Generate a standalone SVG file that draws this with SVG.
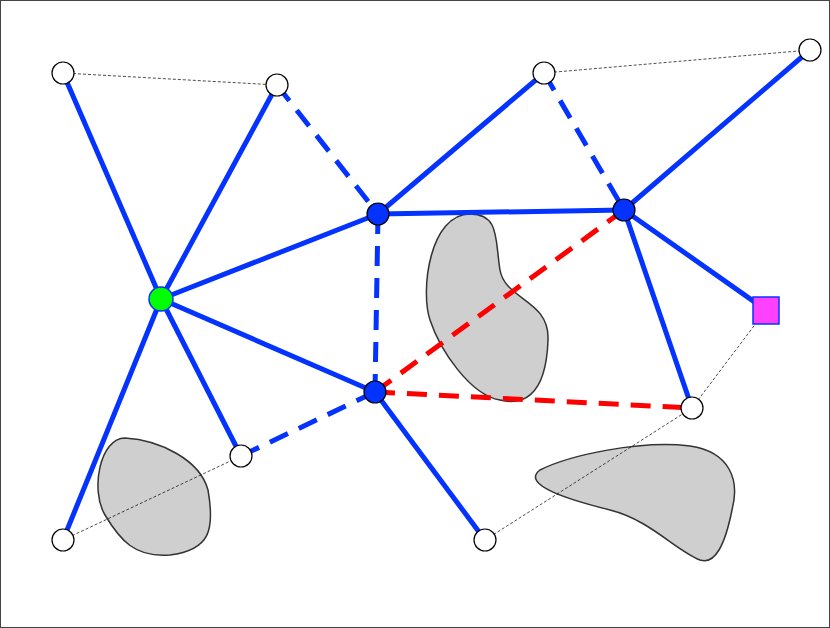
<svg xmlns="http://www.w3.org/2000/svg" width="830" height="628" viewBox="0 0 830 628">
<style>
.s{stroke:#0433ff;stroke-width:5;fill:none}
.d{stroke:#0433ff;stroke-width:5;fill:none;stroke-dasharray:20 12}
.r{stroke:#ff0000;stroke-width:5;fill:none;stroke-dasharray:20 12}
.t{stroke:#000;stroke-width:0.7;fill:none;stroke-dasharray:3 2}
.w{fill:#fff;stroke:#000;stroke-width:1.2}
.b{fill:#0433ff;stroke:#000;stroke-width:1.2}
.o{fill:#d0cfd0;stroke:#333;stroke-width:1.5}
</style>
<rect x="0.5" y="0.5" width="829" height="627" fill="#fff" stroke="#444"/>
<g id="obstacles">
<path class="o" d="M470,214 C500,214 495,240 500,270 C505,300 550,300 548,340 C546,400 520,405 500,400 C470,395 440,350 430,320 C420,290 430,214 470,214 Z"/>
<path class="o" d="M125,438 C160,440 200,460 208,490 C215,530 210,550 170,555 C135,558 120,540 105,515 C90,490 100,438 125,438 Z"/>
<path class="o" d="M540,470 C570,455 640,440 690,446 C730,452 740,480 732,510 C725,545 715,565 700,560 C675,550 650,520 610,510 C570,500 520,485 540,470 Z"/>
</g>
<g id="connectors">
<line class="t" x1="63" y1="73" x2="277" y2="85"/>
<line class="t" x1="544" y1="73" x2="810" y2="50"/>
<line class="t" x1="63" y1="540" x2="241" y2="456"/>
<line class="t" x1="485" y1="540" x2="692" y2="408"/>
<line class="t" x1="692" y1="408" x2="766" y2="310"/>
<line class="s" x1="63" y1="73" x2="161" y2="299"/>
<line class="s" x1="277" y1="85" x2="161" y2="299"/>
<line class="s" x1="161" y1="299" x2="378" y2="214"/>
<line class="s" x1="161" y1="299" x2="375" y2="392"/>
<line class="s" x1="161" y1="299" x2="241" y2="456"/>
<line class="s" x1="161" y1="299" x2="63" y2="540"/>
<line class="s" x1="378" y1="214" x2="544" y2="73"/>
<line class="s" x1="378" y1="214" x2="624" y2="210"/>
<line class="s" x1="624" y1="210" x2="810" y2="50"/>
<line class="s" x1="624" y1="210" x2="766" y2="310"/>
<line class="s" x1="624" y1="210" x2="692" y2="408"/>
<line class="s" x1="375" y1="392" x2="485" y2="540"/>
<line class="d" x1="277" y1="85" x2="378" y2="214"/>
<line class="d" x1="544" y1="73" x2="624" y2="210"/>
<line class="d" x1="378" y1="214" x2="375" y2="392"/>
<line class="d" x1="241" y1="456" x2="375" y2="392"/>
<line class="r" x1="375" y1="392" x2="624" y2="210"/>
<line class="r" x1="375" y1="392" x2="692" y2="408"/>
</g>
<g id="w1"><circle class="w" cx="63" cy="73" r="11"/></g>
<g id="w2"><circle class="w" cx="277" cy="85" r="11"/></g>
<g id="w3"><circle class="w" cx="544" cy="73" r="11"/></g>
<g id="w4"><circle class="w" cx="810" cy="50" r="11"/></g>
<g id="w5"><circle class="w" cx="241" cy="456" r="11"/></g>
<g id="w6"><circle class="w" cx="63" cy="540" r="11"/></g>
<g id="w7"><circle class="w" cx="485" cy="540" r="11"/></g>
<g id="w8"><circle class="w" cx="692" cy="408" r="11"/></g>
<g id="g"><circle cx="161" cy="299" r="12" fill="#00ff00" stroke="#0433ff" stroke-width="1.5"/></g>
<g id="b1"><circle class="b" cx="378" cy="214" r="11"/></g>
<g id="b2"><circle class="b" cx="624" cy="210" r="11"/></g>
<g id="b3"><circle class="b" cx="375" cy="392" r="11"/></g>
<g id="p"><rect x="753" y="297" width="26" height="27" fill="#ff40ff" stroke="#0433ff" stroke-width="1.5"/></g>
</svg>
